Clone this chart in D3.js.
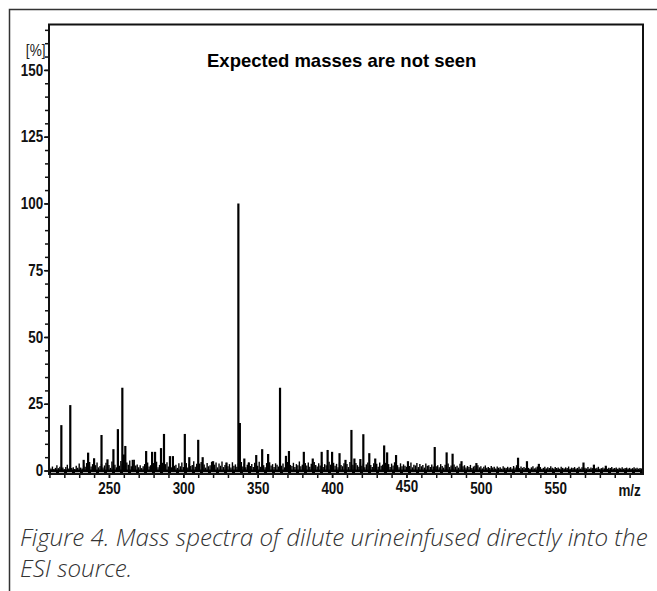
<!DOCTYPE html>
<html lang="en">
<head>
<meta charset="UTF-8">
<title>Mass spectrum</title>
<script src="https://d3js.org/d3.v7.min.js"></script>
<style>
  body { margin: 0; background: #fff; }
  .tick text { font-family: "Liberation Sans", Arial, sans-serif; font-weight: bold; font-size: 16px; fill: #111; }
</style>
</head>
<body>
<svg id="chart" width="657" height="591"></svg>
<script>
// prominent peaks: m/z and relative intensity (%)
var peakMz  = [218, 224, 233, 236, 240, 245, 249, 253, 256, 259, 260, 261, 266, 275, 279, 281, 285, 287,
               291, 293, 301, 304, 310, 313, 320, 329, 337, 338, 341, 344, 349, 353, 357, 365, 369, 371,
               381, 387, 393, 397, 400, 405, 409, 413, 415, 419, 421, 425, 429, 435, 437, 443, 451, 469,
               477, 481, 487, 497, 525, 531, 539, 569, 576, 584];
var peakInt = [17, 24.5, 4, 6.7, 4.6, 13.3, 4.2, 8, 15.5, 31, 6, 9.2, 4, 7.3, 7, 7, 8.4, 13.7,
               5.4, 5.4, 13.7, 5, 11.5, 5, 3.5, 3, 100, 17.8, 4.5, 3, 5.8, 8, 6.2, 31, 5.5, 7.3,
               7, 4.5, 7, 7.7, 7, 6.5, 4, 15.2, 4.5, 4.3, 13.6, 6.5, 4.5, 9.4, 6.8, 5.8, 3.5, 8.8,
               6.8, 6.3, 3.5, 2.8, 4.8, 3.5, 2.5, 3, 2.2, 1.8];

// low-level noise, one value per unit m/z from noiseStart
var noiseStart = 210;
var noiseInt = [
  1.2, 0.8, 1.5, 0.6, 1.0, 2.0, 0.9, 1.4, 0.7, 1.1, 0.5, 1.3, 2.2, 0.8, 1.6, 0.9, 1.2, 0.6, 1.8, 1.0,
  2.6, 1.1, 0.8, 1.9, 1.4, 2.8, 1.0, 3.2, 1.5, 2.4, 0.9, 2.0, 3.0, 1.2, 1.7, 2.5, 1.1, 1.9, 2.9, 1.3,
  2.1, 1.0, 3.4, 1.6, 2.2, 1.2, 2.7, 1.8, 3.6, 2.4, 2.0, 1.4, 3.0, 2.2, 3.8, 1.6, 2.6, 4.0, 1.9, 2.3,
  1.2, 2.0, 0.9, 1.6, 2.4, 1.1, 3.0, 1.5, 2.0, 1.3, 2.8, 1.7, 3.3, 1.2, 2.1, 1.6, 2.9, 1.4, 2.4, 3.1,
  1.5, 2.6, 1.2, 3.4, 1.8, 2.2, 1.0, 2.7, 1.6, 3.0, 1.3, 2.0, 2.8, 1.1, 2.4, 1.7, 2.1, 3.5, 1.4, 2.5,
  1.9, 2.6, 3.2, 1.4, 2.3, 1.1, 2.8, 1.6, 2.0, 3.3, 1.5, 2.2, 3.0, 1.2, 2.6, 1.8, 3.4, 1.3, 2.1, 2.9,
  1.6, 2.4, 1.1, 3.1, 1.8, 2.3, 1.4, 2.7, 2.0, 3.2, 1.5, 2.6, 1.2, 2.2, 3.0, 1.7, 2.4, 1.3, 2.9, 2.1,
  1.8, 3.3, 1.4, 2.5, 2.0, 1.2, 2.8, 1.6, 3.1, 1.9, 2.4, 1.3, 2.7, 2.2, 1.5, 3.0, 1.8, 2.6, 1.2, 2.3,
  3.2, 1.5, 2.1, 1.7, 2.9, 1.3, 2.4, 2.0, 3.4, 1.6, 2.2, 1.1, 2.8, 1.9, 3.0, 1.4, 2.5, 1.8, 3.2, 2.1,
  1.5, 2.7, 1.9, 3.1, 1.3, 2.4, 2.0, 1.6, 3.3, 2.2, 1.4, 2.9, 1.8, 2.5, 1.2, 3.0, 2.1, 1.6, 2.7, 1.9,
  2.4, 1.3, 3.2, 1.7, 2.2, 1.5, 2.8, 2.0, 1.4, 3.1, 1.8, 2.6, 1.2, 2.3, 3.0, 1.6, 2.1, 1.3, 2.7, 1.9,
  2.5, 1.4, 3.0, 1.8, 2.2, 1.1, 2.9, 1.7, 2.4, 1.3, 2.6, 1.9, 3.1, 1.5, 2.0, 1.2, 2.7, 1.6, 2.3, 1.8,
  1.4, 2.5, 1.7, 3.0, 1.2, 2.2, 1.9, 2.8, 1.3, 2.4, 1.6, 2.1, 1.1, 2.6, 1.8, 2.0, 1.3, 2.3, 1.5, 2.7,
  1.6, 2.0, 1.2, 2.4, 1.7, 1.1, 2.2, 1.5, 2.6, 1.3, 1.9, 1.0, 2.3, 1.4, 1.8, 1.1, 2.5, 1.2, 1.6, 2.0,
  1.1, 1.7, 1.3, 2.1, 0.9, 1.5, 1.8, 1.0, 2.0, 1.2, 1.6, 0.8, 1.4, 1.9, 1.0, 1.3, 0.9, 1.7, 1.1, 1.4,
  0.8, 1.5, 1.0, 1.2, 0.7, 1.6, 1.1, 0.9, 1.4, 1.0, 1.3, 0.8, 1.7, 1.1, 2.0, 1.2, 0.9, 1.5, 1.0, 1.3,
  0.9, 1.4, 1.0, 0.7, 1.2, 1.6, 0.8, 1.1, 1.5, 0.9, 1.3, 0.7, 1.0, 1.4, 0.8, 1.2, 0.9, 1.6, 1.0, 0.8,
  1.3, 0.9, 1.1, 0.7, 1.4, 1.0, 0.8, 1.2, 0.9, 1.5, 0.7, 1.1, 0.9, 1.3, 0.8, 1.0, 1.4, 0.7, 1.2, 0.9,
  1.0, 0.8, 1.3, 0.7, 1.1, 0.9, 1.2, 0.8, 1.0, 1.4, 0.7, 0.9, 1.1, 0.8, 1.2, 0.7, 1.0, 0.9, 1.3, 0.8,
  0.9, 1.1, 0.7, 1.0, 0.8, 1.2, 0.7, 0.9, 1.1, 0.8, 1.0, 0.7, 0.9, 1.2, 0.8, 1.0, 0.7, 0.9, 0.8
];

var yTicks = [0, 25, 50, 75, 100, 125, 150];
var xTicks = [250, 300, 350, 400, 450, 500, 550];
var titleText = "Expected masses are not seen";
var captionLines = ["Figure 4. Mass spectra of dilute urineinfused directly into the", "ESI source."];

var svg = d3.select("#chart");
var plotL = 49, plotR = 643, plotT = 24.5, plotB = 474;
var narrow = "scale(0.84,1)";
var labelFont = '"Liberation Sans", Arial, sans-serif';

var x = d3.scaleLinear().domain([209.7, 609]).range([plotL, plotR]);
var y = d3.scaleLinear().domain([-1.3, 167]).range([plotB, plotT]);

// outer figure frame (left and top edges)
svg.append("path")
  .attr("d", "M9.5,591V9.5H657")
  .attr("fill", "none").attr("stroke", "#333").attr("stroke-width", 1.5);

// noise forest
var noise = noiseInt.map(function(v, i) { return {mz: noiseStart + i, v: v}; });
svg.append("g").selectAll("line").data(noise).enter().append("line")
  .attr("x1", function(d) { return x(d.mz); }).attr("x2", function(d) { return x(d.mz); })
  .attr("y1", y(0)).attr("y2", function(d) { return y(d.v); })
  .attr("stroke", "#000").attr("stroke-width", 1.4);

// baseline band
svg.append("rect").attr("x", plotL).attr("y", y(0) - 1).attr("width", plotR - plotL).attr("height", plotB - y(0) + 1).attr("fill", "#000");
svg.append("line").attr("x1", plotL + 2).attr("x2", plotR - 2)
  .attr("y1", (y(0) + plotB) / 2 + 0.5).attr("y2", (y(0) + plotB) / 2 + 0.5)
  .attr("stroke", "#fff").attr("stroke-width", 0.9).attr("stroke-dasharray", "5,3");

// peaks
var peaks = peakMz.map(function(m, i) { return {mz: m, v: peakInt[i]}; });
svg.append("g").selectAll("line").data(peaks).enter().append("line")
  .attr("x1", function(d) { return x(d.mz); }).attr("x2", function(d) { return x(d.mz); })
  .attr("y1", y(0)).attr("y2", function(d) { return y(d.v); })
  .attr("stroke", "#000").attr("stroke-width", 2.2);

function styleTicks(g) {
  g.select(".domain").remove();
  g.selectAll("line").attr("stroke", "#111").attr("stroke-width", 1.5);
}

// y axis: minor then major ticks
svg.append("g").attr("transform", "translate(" + plotL + ",0)")
  .call(d3.axisLeft(y).tickValues(d3.range(0, 166, 5)).tickSize(4).tickFormat(""))
  .call(styleTicks);
svg.append("g").attr("transform", "translate(" + plotL + ",0)")
  .call(d3.axisLeft(y).tickValues(yTicks).tickSize(5).tickPadding(2))
  .call(styleTicks)
  .call(function(g) { g.selectAll("text").attr("transform", narrow); });

// x axis: minor then major ticks
svg.append("g").attr("transform", "translate(0," + plotB + ")")
  .call(d3.axisBottom(x).tickValues(d3.range(210, 601, 10)).tickSize(4).tickFormat(""))
  .call(styleTicks);
svg.append("g").attr("transform", "translate(0," + plotB + ")")
  .call(d3.axisBottom(x).tickValues(xTicks).tickSize(4).tickPadding(5))
  .call(styleTicks)
  .call(function(g) {
    g.selectAll("text").attr("transform", narrow);
    g.selectAll("text").filter(function(d) { return d === 450; }).attr("dy", "0.55em");
  });

// plot frame
svg.append("rect").attr("x", plotL).attr("y", plotT).attr("width", plotR - plotL).attr("height", plotB - plotT)
  .attr("fill", "none").attr("stroke", "#111").attr("stroke-width", 2);

// axis units
svg.append("g").attr("transform", "translate(" + x(600) + ",495.5)")
  .append("text").attr("transform", narrow)
  .attr("text-anchor", "middle")
  .style("font-family", labelFont)
  .style("font-weight", "bold").style("font-size", "16px").attr("fill", "#111")
  .text("m/z");
svg.append("g").attr("transform", "translate(45.5,56)")
  .append("text").attr("transform", "scale(0.8,1)")
  .attr("text-anchor", "end")
  .style("font-family", labelFont)
  .style("font-size", "17px").attr("fill", "#222")
  .text("[%]");

// annotation
svg.append("text").attr("x", 207).attr("y", 67)
  .style("font-family", labelFont)
  .style("font-weight", "bold").style("font-size", "18.5px").attr("fill", "#000")
  .text(titleText);

// caption, sized so the first line spans the figure width
var cap = svg.append("g").selectAll("text").data(captionLines).enter().append("text")
  .attr("x", 20).attr("y", function(d, i) { return 546 + i * 31; })
  .style("font-family", '"Open Sans", "Liberation Sans", Arial, sans-serif')
  .style("font-style", "italic").style("font-weight", 300).style("font-size", "22px")
  .attr("fill", "#333")
  .text(function(d) { return d; });
var w = cap.nodes()[0].getComputedTextLength();
cap.style("font-size", (22 * 628 / w) + "px");
</script>
</body>
</html>
